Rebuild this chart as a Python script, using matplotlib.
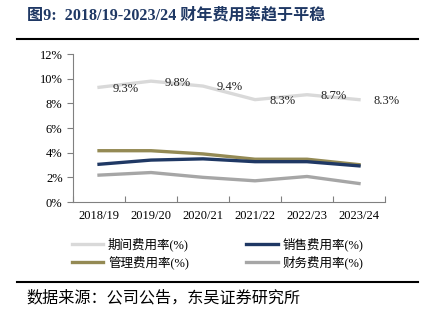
import matplotlib
matplotlib.use('Agg')
import matplotlib.pyplot as plt
from matplotlib.lines import Line2D

plt.rcParams['font.family'] = ['Liberation Serif', 'Noto Sans CJK SC']

years = ['2018/19', '2019/20', '2020/21', '2021/22', '2022/23', '2023/24']
period_rate = [9.3, 9.8, 9.4, 8.3, 8.7, 8.3]
sales_rate = [3.06, 3.4, 3.5, 3.27, 3.27, 2.93]
admin_rate = [4.16, 4.16, 3.9, 3.47, 3.47, 3.03]
finance_rate = [2.18, 2.39, 2.0, 1.72, 2.07, 1.5]
yticks = [0, 2, 4, 6, 8, 10, 12]

cjk = ['Liberation Serif', 'Noto Sans CJK SC']

fig = plt.figure(figsize=(4.26, 3.24), dpi=100)
ax = fig.add_axes([0.1714, 0.3765, 0.7324, 0.4568])

x = list(range(len(years)))
l1, = ax.plot(x, period_rate, color='#D9D9D9', lw=2.4, label='期间费用率(%)')
l3, = ax.plot(x, admin_rate, color='#948A54', lw=2.4, label='管理费用率(%)')
l2, = ax.plot(x, sales_rate, color='#1F3864', lw=2.4, label='销售费用率(%)')
l4, = ax.plot(x, finance_rate, color='#A6A6A6', lw=2.4, label='财务费用率(%)')

for xi, v in zip(x, period_rate):
    ax.annotate('%.1f%%' % v, (xi, v), xytext=(19.5, -1), textcoords='offset points',
                ha='center', va='center', fontsize=9, color='#222222')

ax.set_xlim(-0.5, len(years) - 0.5)
ax.set_ylim(0, 12)
ax.set_yticks(yticks)
ax.set_yticklabels(['%d%%' % t for t in yticks])
ax.set_xticks([i - 0.5 for i in range(len(years) + 1)])
ax.set_xticklabels([])
ax.set_xticks(x, minor=True)
ax.set_xticklabels(years, minor=True)
ax.tick_params(axis='x', which='major', direction='in', length=4, color='#808080')
ax.tick_params(axis='x', which='minor', length=0, labelsize=9, pad=6)
ax.tick_params(axis='y', direction='out', length=4, color='#808080', labelsize=9)
for s in ['top', 'right']:
    ax.spines[s].set_visible(False)
for s in ['left', 'bottom']:
    ax.spines[s].set_color('#808080')
    ax.spines[s].set_linewidth(0.8)

leg = fig.legend(handles=[l1, l3, l2, l4], ncol=2, loc='upper left',
                 frameon=False, handlelength=2.5, handletextpad=0.4, columnspacing=4.6,
                 labelspacing=0.3, prop={'family': cjk, 'size': 9})
leg.set_bbox_to_anchor((0.142, 0.3), transform=fig.transFigure)

fig.text(0.063, 0.953, '图9:  2018/19-2023/24 财年费用率趋于平稳', fontsize=11.6, fontweight='bold',
         color='#1F3864', va='center', ha='left', family=cjk)
fig.add_artist(Line2D([0.04, 0.981], [0.879, 0.879], color='black', lw=1.5))
fig.add_artist(Line2D([0.04, 0.981], [0.13, 0.13], color='black', lw=1.5))
fig.text(0.063, 0.08, '数据来源：公司公告，东吴证券研究所', fontsize=11.6, color='black',
         va='center', ha='left', family=cjk)

fig.savefig('out.png', dpi=100)
